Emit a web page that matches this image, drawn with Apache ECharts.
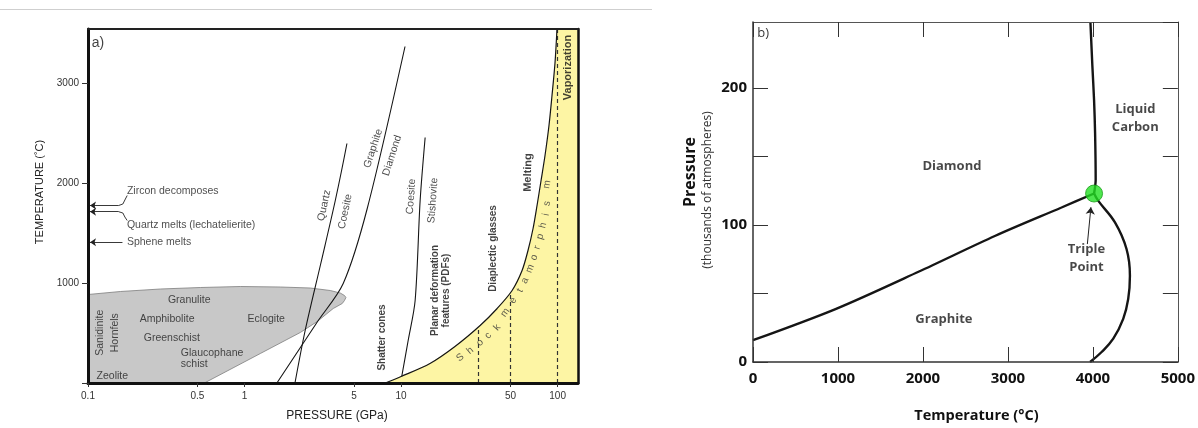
<!DOCTYPE html>
<html>
<head>
<meta charset="utf-8">
<title>Shock metamorphism and the phase diagram of carbon</title>
<script src="https://cdn.jsdelivr.net/npm/echarts@6.0.0/dist/echarts.min.js"></script>
<style>
html, body { margin: 0; padding: 0; background: #fff; }
#chart { width: 1198px; height: 428px; }
</style>
</head>
<body>
<div id="chart"></div>
<script>
// ---------- (a) P–T conditions of metamorphism: pressure (GPa) vs temperature (°C) ----------
const pressureLabels = [0.1, 0.5, 1, 5, 10, 50, 100];
const pressureRange = [0.1, 135];
const temperatureRangeA = [0, 3540];
const temperatureStepA = 1000;

// regional / contact metamorphism facies field, [GPa, °C]
const faciesField = [[0.1,0],[0.1,885],[0.161,915],[0.29,940],[0.522,955],[0.94,965],[1.692,960],[2.63,950],[3.528,925],[4.087,900],[4.35,875],[4.444,855],[4.35,825],[4.209,795],[3.687,745],[2.915,615],[2.271,505],[1.262,295],[0.554,0]];
// phase boundaries, [GPa, °C]
const quartzCoesite = [[2.10,0],[2.44,525],[3.07,1195],[3.80,1825],[4.51,2395]];
const graphiteDiamondA = [[1.61,0],[2.90,605],[4.27,995],[6.08,1745],[10.6,3365]];
const coesiteStishovite = [[10.1,65],[11.1,425],[12.3,825],[13.24,1825],[14.25,2455]];
// lower limit of shock metamorphism (post-shock temperature)
const shockOnset = [[7.92,0],[10.0,65],[15.3,195],[22.1,365],[32.0,575],[41.1,745],[51.2,925],[59.3,1125],[64.7,1325],[69.7,1545],[73.9,1775],[78.4,2025],[83.1,2275],[88.1,2575],[92.1,2875],[96.3,3205],[99.1,3540]];
// shock-stage limits: [GPa, °C where the limit meets the shock boundary]
const shockStageLimits = [[31, 560], [50, 905], [100, 3540]];

// reference temperatures on the temperature axis, °C
const zirconDecomposes = 1775;
const quartzMelts = 1713;
const spheneMelts = 1408;
// label leaders: bracket from each label down/up to its temperature
const bracketZircon = [[0.178,1875],[0.172,1830],[0.167,1790],[0.157,zirconDecomposes]];
const bracketQuartz = [[0.178,1625],[0.172,1660],[0.167,1700],[0.157,quartzMelts]];
const refLabels = [['Zircon decomposes',0.176,1915],['Quartz melts (lechatelierite)',0.176,1575],['Sphene melts',0.176,1405]];

const faciesLabels = [['Granulite',0.443,827],['Amphibolite',0.32,637],['Eclogite',1.377,643],['Greenschist',0.343,447],['Zeolite',0.143,70]];
const faciesLabelsUpright = [['Sanidinite',0.119,503],['Hornfels',0.148,503]];
const glaucophaneLabel = [['Glaucophane\nschist',0.389,245]];
const phaseLabels = [['Quartz',3.23,1775,78],['Coesite',4.40,1715,78],['Graphite',6.64,2345,72],['Diamond',8.77,2275,72],['Coesite',11.6,1865,86],['Stishovite',16.0,1825,86]];
const effectLabels = [['Shatter cones',7.58,455,90],['Planar deformation\nfeatures (PDFs)',17.8,925,90],['Diaplectic glasses',38.7,1345,90]];
const effectLabelsLarge = [['Melting',64.7,2105,89],['Vaporization',115.7,3155,90]];
const shockLetters = [['S',23.84,255,38],['h',27.61,325,40],['o',31.98,405,42],['c',35.96,475,45],['k',41.06,555,48],['m',46.17,705,55],['e',51.93,825,58],['t',57.54,925,62],['a',61.94,1025,65],['m',66.68,1145,68],['o',70.70,1255,70],['r',73.89,1355,72],['p',77.22,1465,74],['h',80.70,1575,76],['i',84.33,1685,78],['s',85.58,1795,79],['m',85.58,1985,80]];
const panelA = [['a)',0.1048,3395]];

// ---------- (b) phase diagram of carbon: temperature (°C) vs pressure (thousand atm) ----------
const temperatureRangeB = [0, 5000];
const temperatureStepB = 1000;
const pressureRangeB = [0, 248];
const pressureStepB = 50;
const graphiteDiamondB = [[0,15.9],[978,38.8],[1954,66.0],[2853,92.1],[3631,112.7],[4014,122.9]];
const diamondLiquid = [[4014,122.9],[4033,133],[4026,167],[4014,191],[3994,216],[3971,248]];
const graphiteLiquid = [[4014,122.9],[4064,117.5],[4260,101.8],[4396,82.4],[4436,63.0],[4416,46.0],[4357,31.5],[4240,17.0],[4103,7.3],[3967,0]];
const triplePoint = [4014, 122.9];
const triplePointArrow = [[3935,86],[3977,112.9]];
const regionLabelsB = [['Diamond',2341,142.9],['Graphite',2247,31.0],['Liquid\nCarbon',4499,177.7],['Triple\nPoint',3924,75.9]];
const panelB = [['b)',44,240]];

// ---------- helpers ----------
const L = v => Math.log10(v);
const logP = pts => pts.map(([p, t]) => [L(p), t]);
const SANS_A = '"Liberation Sans", Arial, Helvetica, sans-serif';
const SANS_B = '"Open Sans", "Noto Sans", sans-serif';

function polygon(points, xi, yi, fill, stroke, z) {
  return {
    type: 'custom', xAxisIndex: xi, yAxisIndex: yi, silent: true, z: z,
    data: [[points[0][0], points[0][1]]],
    renderItem: (params, api) => ({
      type: 'polygon',
      shape: { points: points.map(p => api.coord(p)) },
      style: { fill: fill, stroke: stroke || null, lineWidth: stroke ? 0.8 : 0 }
    })
  };
}
function curve(points, xi, yi, width, smooth) {
  return {
    type: 'line', xAxisIndex: xi, yAxisIndex: yi, data: points, showSymbol: false, silent: true,
    smooth: smooth, z: 4, lineStyle: { color: '#151515', width: width }
  };
}
function texts(list, xi, yi, label, toValue) {
  return {
    type: 'scatter', xAxisIndex: xi, yAxisIndex: yi, symbolSize: 1, silent: true, z: 6,
    itemStyle: { color: 'rgba(0,0,0,0)' },
    data: list.map(([text, x, y, rot]) => ({
      value: toValue ? toValue(x, y) : [x, y],
      label: Object.assign({ show: true, formatter: text, rotate: rot || 0 }, label)
    }))
  };
}
const aVal = (p, t) => [L(p), t];
const centred = { position: 'inside', align: 'center', verticalAlign: 'middle' };
const leftAnchored = { position: 'right', distance: 0, align: 'left', verticalAlign: 'middle' };
const textA = Object.assign({ fontFamily: SANS_A, fontSize: 10.5, color: '#222' }, centred);
const boldA = Object.assign({}, textA, { fontWeight: 'bold', fontSize: 10, color: '#111', lineHeight: 11 });
const arrowEndP = 0.103;

const chart = echarts.init(document.getElementById('chart'), null, { renderer: 'canvas' });
chart.setOption({
  animation: false,
  backgroundColor: '#fff',
  graphic: [
    { type: 'line', shape: { x1: 0, y1: 9.5, x2: 652, y2: 9.5 }, style: { stroke: '#cfcfcf', lineWidth: 1 }, silent: true },
    { type: 'text', x: 690, y: 172, rotation: Math.PI / 2, silent: true,
      style: { text: 'Pressure', fontFamily: SANS_B, fontWeight: 'bold', fontSize: 16, fill: '#111', align: 'center', verticalAlign: 'middle' } },
    { type: 'text', x: 708, y: 190, rotation: Math.PI / 2, silent: true,
      style: { text: '(thousands of atmospheres)', fontFamily: SANS_B, fontSize: 12, fill: '#333', align: 'center', verticalAlign: 'middle' } }
  ],
  grid: [
    { left: 88, top: 29, width: 490, height: 354 },
    { left: 753, top: 22, width: 426, height: 341 }
  ],
  xAxis: [
    { gridIndex: 0, type: 'value', min: L(pressureRange[0]), max: L(pressureRange[1]), z: 10,
      axisLine: { onZero: false, lineStyle: { color: '#111', width: 3 } },
      splitLine: { show: false },
      axisTick: { show: true, customValues: pressureLabels.map(L), length: 4, lineStyle: { color: '#333', width: 1 } },
      axisLabel: { customValues: pressureLabels.map(L), margin: 8, fontFamily: SANS_A, fontSize: 10, color: '#333',
        formatter: v => String(Math.round(Math.pow(10, v) * 10) / 10) },
      name: 'PRESSURE (GPa)', nameLocation: 'middle', nameGap: 27,
      nameTextStyle: { fontFamily: SANS_A, fontSize: 12, color: '#222', padding: [0, 0, 0, 8] } },
    { gridIndex: 0, type: 'value', position: 'top', min: L(pressureRange[0]), max: L(pressureRange[1]), z: 10,
      axisLine: { onZero: false, lineStyle: { color: '#222', width: 2 } }, axisTick: { show: false }, axisLabel: { show: false }, splitLine: { show: false } },
    { gridIndex: 1, type: 'value', min: temperatureRangeB[0], max: temperatureRangeB[1], interval: temperatureStepB, z: 10,
      axisLine: { onZero: false, lineStyle: { color: '#333', width: 1.5 } },
      splitLine: { show: false },
      axisTick: { inside: true, length: 15, lineStyle: { color: '#333', width: 1 } },
      axisLabel: { margin: 9, fontFamily: SANS_B, fontWeight: 'bold', fontSize: 15, color: '#111', formatter: v => String(v) },
      name: 'Temperature (°C)', nameLocation: 'middle', nameGap: 46,
      nameTextStyle: { fontFamily: SANS_B, fontWeight: 'bold', fontSize: 14.5, color: '#111', padding: [0, 0, 0, 22] } },
    { gridIndex: 1, type: 'value', position: 'top', min: temperatureRangeB[0], max: temperatureRangeB[1], interval: temperatureStepB, z: 10,
      axisLine: { onZero: false, lineStyle: { color: '#555', width: 1 } }, splitLine: { show: false },
      axisTick: { inside: true, length: 15, lineStyle: { color: '#333', width: 1 } }, axisLabel: { show: false } }
  ],
  yAxis: [
    { gridIndex: 0, type: 'value', min: temperatureRangeA[0], max: temperatureRangeA[1], interval: temperatureStepA, z: 10,
      axisLine: { onZero: false, lineStyle: { color: '#111', width: 3 } },
      splitLine: { show: false },
      axisTick: { show: true, length: 6, lineStyle: { color: '#333', width: 1 } },
      axisLabel: { margin: 9, fontFamily: SANS_A, fontSize: 10, color: '#333', showMaxLabel: false,
        formatter: v => (v === 0 ? '' : String(v)) },
      name: 'TEMPERATURE (˚C)', nameLocation: 'middle', nameGap: 43, nameRotate: 90,
      nameTextStyle: { fontFamily: SANS_A, fontSize: 11, color: '#222', padding: [0, 0, 0, 28] } },
    { gridIndex: 0, type: 'value', position: 'right', min: temperatureRangeA[0], max: temperatureRangeA[1], z: 10,
      axisLine: { onZero: false, lineStyle: { color: '#111', width: 2.5 } }, axisTick: { show: false }, axisLabel: { show: false }, splitLine: { show: false } },
    { gridIndex: 1, type: 'value', min: pressureRangeB[0], max: pressureRangeB[1], interval: pressureStepB, z: 10,
      axisLine: { onZero: false, lineStyle: { color: '#333', width: 1.5 } },
      splitLine: { show: false },
      axisTick: { inside: true, length: 15, lineStyle: { color: '#333', width: 1 } },
      axisLabel: { margin: 6, fontFamily: SANS_B, fontWeight: 'bold', fontSize: 15, color: '#111', showMaxLabel: false,
        formatter: v => (v % 100 === 0 ? String(v) : '') } },
    { gridIndex: 1, type: 'value', position: 'right', min: pressureRangeB[0], max: pressureRangeB[1], interval: pressureStepB, z: 10,
      axisLine: { onZero: false, lineStyle: { color: '#555', width: 1 } }, splitLine: { show: false },
      axisTick: { inside: true, length: 15, lineStyle: { color: '#333', width: 1 } }, axisLabel: { show: false } }
  ],
  series: [
    // ----- panel a -----
    polygon(logP(faciesField), 0, 0, '#c8c8c8', '#7d7d7d', 1),
    polygon(logP(shockOnset.concat([[pressureRange[1], temperatureRangeA[1]], [pressureRange[1], 0]])), 0, 0, '#fdf5a4', null, 1),
    curve(logP(quartzCoesite), 0, 0, 1.1, 0.3),
    curve(logP(graphiteDiamondA), 0, 0, 1.1, 0.3),
    curve(logP(coesiteStishovite), 0, 0, 1.1, 0.3),
    curve(logP(shockOnset), 0, 0, 1.2, 0.3),
    {
      type: 'lines', coordinateSystem: 'cartesian2d', xAxisIndex: 0, yAxisIndex: 0, silent: true, z: 3,
      lineStyle: { color: '#333', width: 1.2, opacity: 1, type: [4, 3] },
      data: shockStageLimits.map(([p, t]) => ({ coords: [[L(p), 0], [L(p), t]] }))
    },
    // bracket part of the leaders
    {
      type: 'lines', coordinateSystem: 'cartesian2d', xAxisIndex: 0, yAxisIndex: 0, polyline: true, silent: true, z: 11,
      lineStyle: { color: '#222', width: 0.9, opacity: 1 },
      data: [bracketZircon, bracketQuartz].map(pts => ({ coords: logP(pts) }))
    },
    // horizontal arrows pointing at the temperature axis
    {
      type: 'lines', coordinateSystem: 'cartesian2d', xAxisIndex: 0, yAxisIndex: 0, silent: true, z: 11,
      symbol: ['none', 'arrow'], symbolSize: [5, 6],
      lineStyle: { color: '#222', width: 0.9, opacity: 1 },
      data: [[0.157, zirconDecomposes], [0.157, quartzMelts], [0.166, spheneMelts]].map(([p, t]) => ({
        coords: [[L(p), t], [L(arrowEndP), t]]
      }))
    },
    texts(refLabels, 0, 0, Object.assign({ fontFamily: SANS_A, fontSize: 10.5, color: '#222' }, leftAnchored), aVal),
    texts(faciesLabels, 0, 0, textA, aVal),
    texts(faciesLabelsUpright, 0, 0, Object.assign({}, textA, { rotate: 90 }), aVal),
    texts(glaucophaneLabel, 0, 0, Object.assign({ fontFamily: SANS_A, fontSize: 10.5, color: '#222', lineHeight: 11 }, leftAnchored), aVal),
    texts(phaseLabels, 0, 0, textA, aVal),
    texts(effectLabels, 0, 0, boldA, aVal),
    texts(effectLabelsLarge, 0, 0, Object.assign({}, boldA, { fontSize: 11 }), aVal),
    texts(shockLetters, 0, 0, Object.assign({}, textA, { fontSize: 10, color: '#333' }), aVal),
    texts(panelA, 0, 0, Object.assign({ fontFamily: SANS_A, fontSize: 14, color: '#111' }, leftAnchored), aVal),
    // ----- panel b -----
    curve(graphiteDiamondB, 2, 2, 2.4, 0.3),
    curve(diamondLiquid, 2, 2, 2.4, 0.3),
    curve(graphiteLiquid, 2, 2, 2.4, 0.4),
    {
      type: 'lines', coordinateSystem: 'cartesian2d', xAxisIndex: 2, yAxisIndex: 2, silent: true, z: 5,
      symbol: ['none', 'arrow'], symbolSize: 7,
      lineStyle: { color: '#222', width: 1, opacity: 1 },
      data: [{ coords: triplePointArrow }]
    },
    {
      type: 'scatter', xAxisIndex: 2, yAxisIndex: 2, silent: true, z: 7,
      symbol: 'circle', symbolSize: 17,
      itemStyle: { color: '#22e022', borderColor: '#1c9c1c', borderWidth: 1 },
      data: [triplePoint]
    },
    texts(regionLabelsB, 2, 2, Object.assign({ fontFamily: SANS_B, fontWeight: 'bold', fontSize: 13, color: '#1a1a1a', lineHeight: 18 }, centred)),
    texts(panelB, 2, 2, Object.assign({ fontFamily: SANS_B, fontSize: 13, color: '#000' }, leftAnchored))
  ]
});
</script>
</body>
</html>
